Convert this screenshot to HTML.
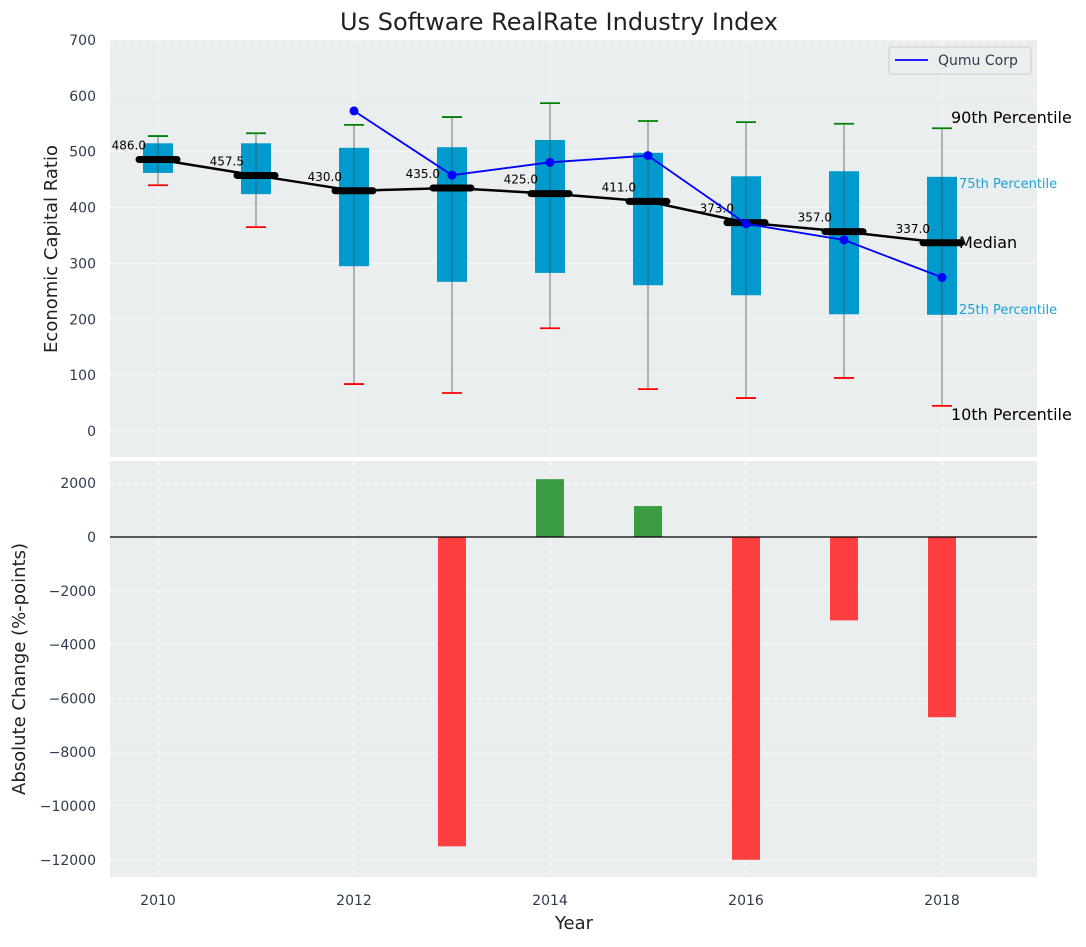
<!DOCTYPE html>
<html><head><meta charset="utf-8"><style>
body{margin:0;background:#fff;font-family:"Liberation Sans","DejaVu Sans",sans-serif}
svg text{font-family:"DejaVu Sans","Liberation Sans",sans-serif}
</style></head><body>
<svg id="c" width="1086" height="942" xmlns="http://www.w3.org/2000/svg"></svg>
<script>
const years=[2010,2011,2012,2013,2014,2015,2016,2017,2018];
const p10=[440,365,84,68,184,75,59,95,45];
const p25=[462,424,295,267,283,261,243,209,208];
const med=[486,457.5,430,435,425,411,373,357,337];
const p75=[515,515,507,508,521,498,456,465,455];
const p90=[528,533,548,562,587,555,553,550,542];
const qYears=[2012,2013,2014,2015,2016,2017,2018];
const qVals=[573,458,481,493,371,342,275];
const chgYears=[2013,2014,2015,2016,2017,2018];
const chgVals=[-11500,2150,1150,-12000,-3100,-6700];
const topTicks=[0,100,200,300,400,500,600,700];
const botTicks=[2000,0,-2000,-4000,-6000,-8000,-10000,-12000];
const xTicks=[2010,2012,2014,2016,2018];

const S=document.getElementById('c'),NS='http://www.w3.org/2000/svg';
function el(t,a,p){const e=document.createElementNS(NS,t);for(const k in a)e.setAttribute(k,a[k]);(p||S).appendChild(e);return e;}
const X=v=>158+(v-2010)*98;
const Y1=v=>431-v*0.5586;
const Y2=v=>537-v*0.0269;
const L=110,R=1037;
function panel(y0,y1,name){const r=el('rect',{x:L,y:y0,width:R-L,height:y1-y0,fill:'#eaeeef'});}
panel(40,457,'top-plot-area');panel(461,877,'bottom-plot-area');
const grid=(x1,y1,x2,y2)=>el('line',{x1,y1,x2,y2,stroke:'#fff','stroke-dasharray':'5,3','stroke-width':0.8});
const fmt=t=>String(t).replace('-','\u2212');
xTicks.forEach(t=>{grid(X(t),40,X(t),457);grid(X(t),461,X(t),877);
 const tx=el('text',{x:X(t),y:905,'text-anchor':'middle','font-size':14,fill:'#2e3b4e'});tx.textContent=t;
 });
topTicks.forEach(t=>{grid(L,Y1(t),R,Y1(t));const tx=el('text',{x:96,y:Y1(t)+5,'text-anchor':'end','font-size':14,fill:'#2e3b4e'});tx.textContent=fmt(t);
 });
botTicks.forEach(t=>{grid(L,Y2(t),R,Y2(t));const tx=el('text',{x:96,y:Y2(t)+5,'text-anchor':'end','font-size':14,fill:'#2e3b4e'});tx.textContent=fmt(t);
 });
years.forEach((y,i)=>{const x=X(y);
 const w=el('line',{x1:x,y1:Y1(p10[i]),x2:x,y2:Y1(p90[i]),stroke:'#888','stroke-width':1.2});
 
 const b=el('rect',{x:x-15,y:Y1(p75[i]),width:30,height:Y1(p25[i])-Y1(p75[i]),fill:'#009acd'});
 
 el('line',{x1:x,y1:Y1(p25[i]),x2:x,y2:Y1(p75[i]),stroke:'#444','stroke-width':1,opacity:0.6});
 el('line',{x1:x-10,y1:Y1(p90[i]),x2:x+10,y2:Y1(p90[i]),stroke:'green','stroke-width':1.8});
 el('line',{x1:x-10,y1:Y1(p10[i]),x2:x+10,y2:Y1(p10[i]),stroke:'red','stroke-width':1.8});
});
const mp=el('polyline',{points:years.map((y,i)=>X(y)+','+Y1(med[i])).join(' '),fill:'none',stroke:'#000','stroke-width':2.5});

years.forEach((y,i)=>{const x=X(y);
 const m=el('line',{x1:x-19,y1:Y1(med[i]),x2:x+19,y2:Y1(med[i]),stroke:'#000','stroke-width':7,'stroke-linecap':'round'});
 
 const t=el('text',{x:x-12,y:Y1(med[i])-10,'text-anchor':'end','font-size':12,fill:'#000'});t.textContent=med[i].toFixed(1);
 });
const ql=el('polyline',{points:qYears.map((y,i)=>X(y)+','+Y1(qVals[i])).join(' '),fill:'none',stroke:'#0000ff','stroke-width':1.8});

qYears.forEach((y,i)=>{const c=el('circle',{cx:X(y),cy:Y1(qVals[i]),r:4.5,fill:'#0000ff'});
 });
const xl=X(2018);
[[xl+9,Y1(p90[8])-10,'90th Percentile','#000',16],[xl+17,Y1(p75[8])+6,'75th Percentile','#1ba3d6',13],[xl+17,Y1(med[8])+0,'Median','#000',16],[xl+17,Y1(p25[8])-6,'25th Percentile','#1ba3d6',13],[xl+9,Y1(p10[8])+9,'10th Percentile','#000',16]].forEach(a=>{
 const t=el('text',{x:a[0],y:a[1]+5,'font-size':a[4],fill:a[3]});t.textContent=a[2];
 });
const lg=el('g',{});
el('rect',{x:889,y:47,width:142,height:27,rx:3,fill:'#eaeeef',stroke:'#ccc'},lg);
el('line',{x1:895,y1:60,x2:928,y2:60,stroke:'#0000ff','stroke-width':1.8},lg);
const lt=el('text',{x:938,y:65,'font-size':14,fill:'#2e3b4e'},lg);lt.textContent='Qumu Corp';
chgYears.forEach((y,i)=>{const v=chgVals[i];const y0=Y2(Math.max(v,0)),y1=Y2(Math.min(v,0));
 const b=el('rect',{x:X(y)-14,y:y0,width:28,height:y1-y0,fill:v>=0?'#2a9431':'#ff3030',opacity:0.92});
 });
el('line',{x1:L,y1:Y2(0),x2:R,y2:Y2(0),stroke:'#000','stroke-width':1.2});
const tt=el('text',{x:559,y:30,'text-anchor':'middle','font-size':24,fill:'#222'});tt.textContent='Us Software RealRate Industry Index';

const xt=el('text',{x:574,y:929,'text-anchor':'middle','font-size':18,fill:'#222'});xt.textContent='Year';

const y1t=el('text',{x:57,y:249,'text-anchor':'middle','font-size':18,fill:'#222',transform:'rotate(-90 57 249)'});y1t.textContent='Economic Capital Ratio';

const y2t=el('text',{x:25,y:669,'text-anchor':'middle','font-size':18,fill:'#222',transform:'rotate(-90 25 669)'});y2t.textContent='Absolute Change (%-points)';

</script>
</body></html>
